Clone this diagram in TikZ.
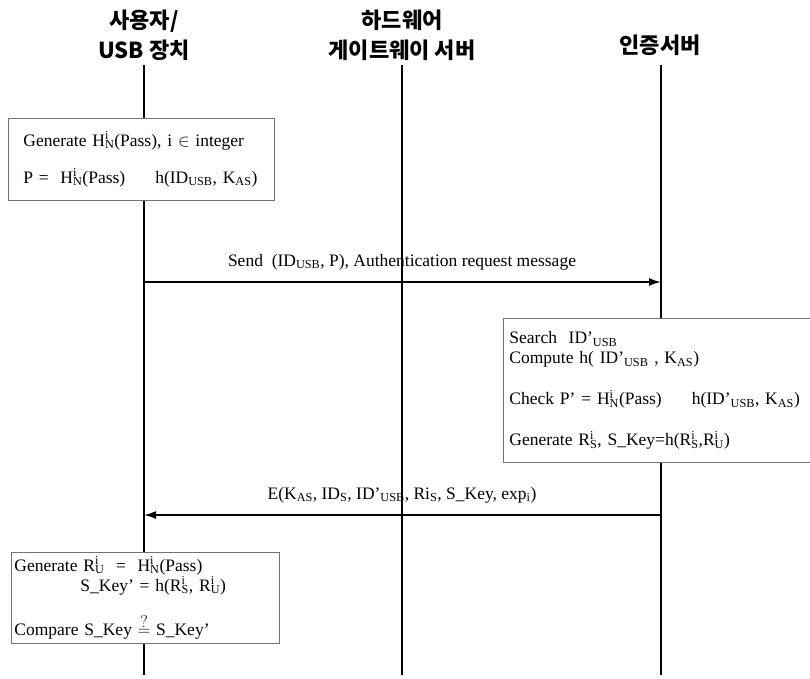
\documentclass[tikz,border=0pt]{standalone}
\usepackage{fontspec}
\setmainfont{Liberation Serif}
\newfontfamily\krfont{Noto Sans CJK KR}
\usetikzlibrary{arrows.meta, positioning}
\newcommand\supsub[2]{\rlap{\textsuperscript{#1}}\textsubscript{#2}}
\tikzset{
  hdr/.style={
    font=\krfont\bfseries\fontsize{22}{30}\selectfont, align=center,
    inner sep=0pt,
  },
  life/.style={line width=1.8pt},
  evbox/.style={
    rectangle, draw=black!55, fill=white, line width=0.8pt,
    anchor=north west, align=left,
    font=\fontsize{17.5}{20}\selectfont,
  },
  msg/.style={
    -{Latex[length=12pt,width=8pt]},
    line width=1.8pt,
  },
  lbl/.style={font=\fontsize{17.5}{20}\selectfont, inner sep=0pt},
}

\begin{document}
\begin{tikzpicture}[x=1pt,y=-1pt]
  \useasboundingbox (0,0) rectangle (810,679);

  % participants
  \node[hdr] (usr) at (144,35) {사용자/\\USB 장치};
  \node[hdr] (gw)  at (402,35) {하드웨어\\게이트웨이 서버};
  \node[hdr] (as)  at (660,45) {인증서버};

  \coordinate (usrT) at (144,65);  \coordinate (usrB) at (144,675);
  \coordinate (gwT)  at (402,65);  \coordinate (gwB)  at (402,675);
  \coordinate (asT)  at (661,65);  \coordinate (asB)  at (661,675);

  \draw[life] (usrT) -- (usrB);
  \draw[life] (gwT) -- (gwB);
  \draw[life] (asT) -- (asB);

  % local steps
  \node[evbox, minimum width=254, minimum height=82,
        text width=236, inner xsep=15, inner ysep=0] (gen) at (8,118)
    {Generate H\supsub{i}{N}(Pass), i $\in$ integer\\[17pt]
     P =\ \ H\supsub{i}{N}(Pass)\hspace{30pt}h(ID\textsubscript{USB}, K\textsubscript{AS})};

  \node[evbox, minimum width=305, minimum height=144,
        text width=299, inner xsep=6, inner ysep=0] (auth) at (503,318)
    {Search\ \ ID'\textsubscript{USB}\\
     Compute h( ID'\textsubscript{USB} , K\textsubscript{AS})\\[21pt]
     Check P' = H\supsub{i}{N}(Pass)\hspace{30pt}h(ID'\textsubscript{USB}, K\textsubscript{AS})\\[21pt]
     Generate R\supsub{i}{S}, S\_Key=h(R\supsub{i}{S},R\supsub{i}{U})};

  \node[evbox, minimum width=266, minimum height=91,
        text width=262, inner xsep=3, inner ysep=0] (cmp) at (11,552)
    {Generate R\supsub{i}{U}\ \ =\ \ H\supsub{i}{N}(Pass)\\
     \hspace*{66pt}S\_Key' = h(R\supsub{i}{S}, R\supsub{i}{U})\\[18pt]
     Compare S\_Key $\stackrel{\textstyle ?}{=}$ S\_Key'};

  % messages
  \coordinate (m1s) at (usrT |- 0,282);
  \coordinate (m1e) at (asT |- 0,282);
  \draw[msg] (m1s) -- (m1e);
  \node[lbl, above=12pt of gw |- m1s] (m1lbl)
    {Send\ \ (ID\textsubscript{USB}, P), Authentication request message};

  \coordinate (m2s) at (asT |- 0,515);
  \coordinate (m2e) at (usrT |- 0,515);
  \draw[msg] (m2s) -- (m2e);
  \node[lbl, above=12pt of gw |- m2s] (m2lbl)
    {E(K\textsubscript{AS}, ID\textsubscript{S}, ID'\textsubscript{USB}, Ri\textsubscript{S}, S\_Key, exp\textsubscript{i})};
\end{tikzpicture}
\end{document}
